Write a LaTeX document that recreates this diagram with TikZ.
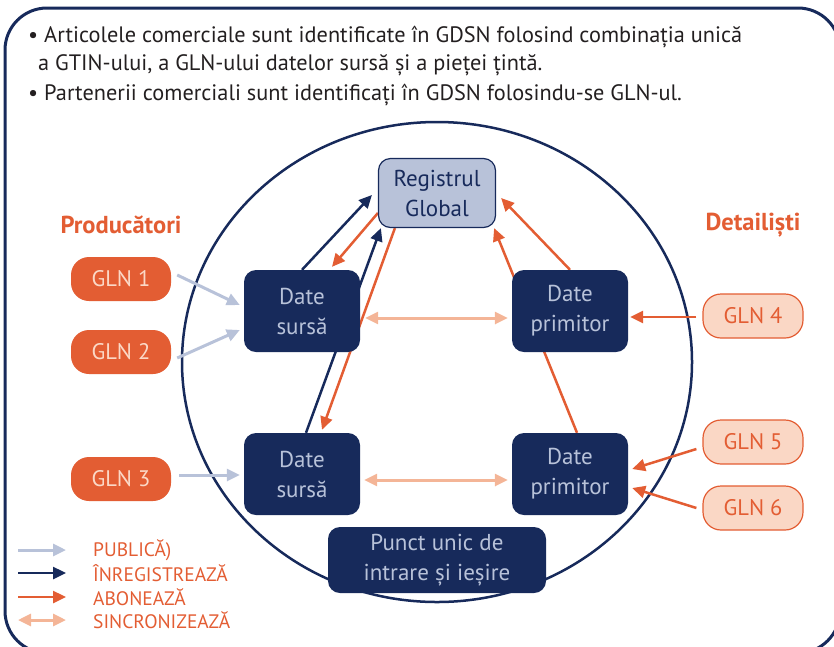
\documentclass[tikz,border=0pt]{standalone}
\usepackage{fontspec}
\setmainfont{PT Sans}
\usetikzlibrary{arrows.meta,calc,backgrounds}
\definecolor{navy}{HTML}{172A5B}
\definecolor{lightblue}{HTML}{B8C2D9}
\definecolor{orng}{HTML}{E35D33}
\definecolor{peach}{HTML}{FAD7C5}
\definecolor{peachtxt}{HTML}{FBD8C6}
\definecolor{syncc}{HTML}{F4B597}
\definecolor{hdr}{HTML}{231F20}
\tikzset{
  darkbox/.style={fill=navy, rounded corners=12pt, minimum width=116pt, minimum height=82pt,
    text=lightblue, font=\fontsize{23}{30}\selectfont, align=center, inner sep=0pt},
  regbox/.style={fill=lightblue, draw=navy, line width=1.2pt, rounded corners=12pt,
    minimum width=117pt, minimum height=69pt, text=navy, font=\fontsize{23}{30}\selectfont,
    align=center, inner sep=0pt},
  glnl/.style={fill=orng, rounded corners=18pt, minimum width=100pt, minimum height=44pt,
    text=peachtxt, font=\fontsize{22.5}{26}\selectfont, inner sep=0pt},
  glnr/.style={fill=peach, draw=orng, line width=1.2pt, rounded corners=18pt, minimum width=100pt,
    minimum height=44pt, text=orng, font=\fontsize{22.5}{26}\selectfont, inner sep=0pt},
  hdrtxt/.style={anchor=west, text=hdr, font=\fontsize{22.3}{26}\selectfont, inner sep=0pt},
  grp/.style={text=orng, font=\bfseries\fontsize{24.5}{28}\selectfont, inner sep=0pt},
  legtxt/.style={anchor=west, text=orng, font=\fontsize{19.5}{22}\selectfont, inner sep=0pt},
  tip/.tip={Triangle[length=13pt,width=12pt]},
  pubarr/.style={draw=lightblue, line width=3pt, -tip},
  regarr/.style={draw=navy, line width=2.5pt, -tip},
  subarr/.style={draw=orng, line width=2.5pt, -tip},
  syncarr/.style={draw=syncc, line width=3pt, tip-tip},
}
\begin{document}
\begin{tikzpicture}[x=1pt,y=-1pt]
\useasboundingbox (0,0) rectangle (834,646);
\draw[navy, line width=3pt, rounded corners=42pt] (5,8) rectangle (840,653);

% header
\node[hdrtxt] (h1) at (28,37) {• Articolele comerciale sunt identificate în GDSN folosind combinația unică};
\node[hdrtxt] (h2) at (38,65) {a GTIN-ului, a GLN-ului datelor sursă și a pieței țintă.};
\node[hdrtxt] (h3) at (28,95) {• Partenerii comerciali sunt identificați în GDSN folosindu-se GLN-ul.};

% group labels
\node[grp] (prod) at (121,225) {Producători};
\node[grp] (det) at (753,225) {Detailiști};

% central nodes
\node[regbox] (reg) at (437,193) {Registrul\\Global};
\node[darkbox] (dst) at (302,311) {Date\\sursă};
\node[darkbox] (dsb) at (302,474) {Date\\sursă};
\node[darkbox] (dpt) at (570,311) {Date\\primitor};
\node[darkbox] (dpb) at (570,474) {Date\\primitor};
\node[darkbox, minimum width=218pt, minimum height=66pt] (pun) at (437,560) {Punct unic de\\intrare și ieșire};

% GLN nodes
\node[glnl] (g1) at (121,279) {GLN 1};
\node[glnl] (g2) at (121,352) {GLN 2};
\node[glnl] (g3) at (121,479) {GLN 3};
\node[glnr] (g4) at (753,316) {GLN 4};
\node[glnr] (g5) at (753,442) {GLN 5};
\node[glnr] (g6) at (753,508) {GLN 6};

% legend
\coordinate (l1a) at (18,550); \coordinate (l1b) at (66,550);
\coordinate (l2a) at (18,573); \coordinate (l2b) at (66,573);
\coordinate (l3a) at (18,597); \coordinate (l3b) at (66,597);
\coordinate (l4a) at (18,620); \coordinate (l4b) at (66,620);
\draw[pubarr] (l1a) -- (l1b);
\draw[regarr] (l2a) -- (l2b);
\draw[subarr] (l3a) -- (l3b);
\draw[syncarr] (l4a) -- (l4b);
\node[legtxt] (t1) at (93,550) {PUBLICĂ)};
\node[legtxt] (t2) at (93,573) {ÎNREGISTREAZĂ};
\node[legtxt] (t3) at (93,597) {ABONEAZĂ};
\node[legtxt] (t4) at (93,620) {SINCRONIZEAZĂ};

\begin{pgfonlayer}{background}
\draw[navy, line width=2.5pt] (437,362) ellipse [x radius=255pt, y radius=240pt];
% publish
\draw[pubarr] ($(g1.east)+(6,-4)$) -- ($(dst.west)+(-4,-6)$);
\draw[pubarr] ($(g2.east)+(6,6)$) -- ($(dst.west)+(-4,19)$);
\draw[pubarr] ($(g3.east)+(8,-4)$) -- ($(dsb.west)+(-4,1)$);
% register
\draw[regarr] (dst.north) -- ($(reg.west)+(-6,2)$);
\draw[regarr] ($(dsb.north)+(4,0)$) -- ($(reg.south west)+(3,0)$);
% subscribe
\draw[subarr] ($(reg.west)+(0,20)$) -- ($(dst.north)+(30,-3)$);
\draw[subarr] ($(reg.south west)+(17,0)$) -- ($(dsb.north)+(20,-3)$);
\draw[subarr] (dpt.north) -- ($(reg.east)+(5,5)$);
\draw[subarr] ($(dpb.north)+(7,0)$) -- ($(reg.south east)+(-2,0)$);
\draw[subarr] ($(g4.west)+(-6,1)$) -- ($(dpt.east)+(2,6)$);
\draw[subarr] ($(g5.west)+(-6,7)$) -- ($(dpb.east)+(4,-5)$);
\draw[subarr] ($(g6.west)+(-6,0)$) -- ($(dpb.east)+(4,14)$);
% synchronize
\draw[syncarr] ($(dst.east)+(5,7)$) -- ($(dpt.west)+(-4,7)$);
\draw[syncarr] ($(dsb.east)+(4,6)$) -- ($(dpb.west)+(-4,6)$);
\end{pgfonlayer}
\end{tikzpicture}
\end{document}
